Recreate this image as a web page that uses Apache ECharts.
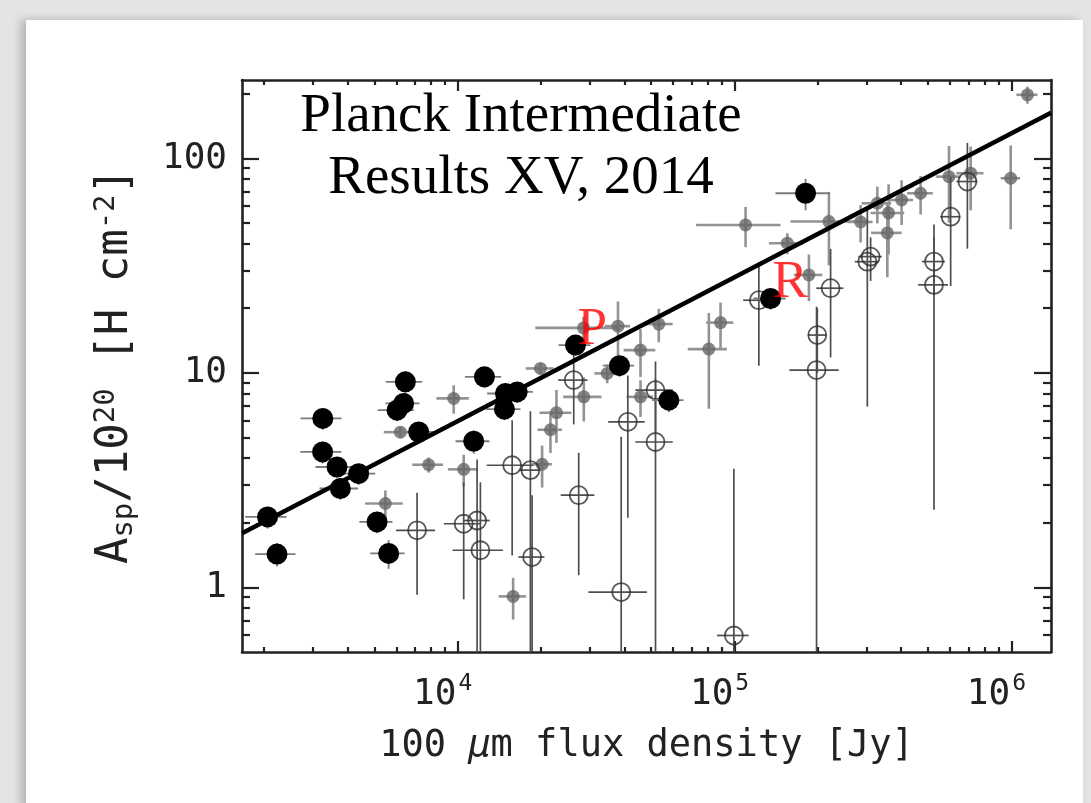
<!DOCTYPE html>
<html><head><meta charset="utf-8">
<script src="https://cdn.jsdelivr.net/npm/echarts@6/dist/echarts.min.js"></script>
<style>
html,body{margin:0;padding:0;width:1091px;height:803px;overflow:hidden;background:#e4e4e4;}
#panel{position:absolute;left:26px;top:20px;width:1057px;height:790px;background:#fff;box-shadow:-5px 0 9px rgba(0,0,0,0.22);}
#chart{position:absolute;left:0;top:0;width:1091px;height:803px;}
</style></head><body><div id="panel"></div><div id="chart"></div>
<script>
// ---- axis ranges & ticks ----
const X_MIN = 1663, X_MAX = 1390000;
const Y_MIN = 0.5, Y_MAX = 231.6;
const xMajorTicks = [1e4, 1e5, 1e6];
const xMinorTicks = [2000,3000,4000,5000,6000,7000,8000,9000,20000,30000,40000,50000,60000,70000,80000,90000,200000,300000,400000,500000,600000,700000,800000,900000];
const yMajorTicks = [1, 10, 100];
const yMinorTicks = [0.6,0.7,0.8,0.9,2,3,4,5,6,7,8,9,20,30,40,50,60,70,80,90,200];

// ---- filled black circles ----
const blackX = [2057, 2225, 3256, 3251, 3665, 3768, 4387, 5113, 5631, 6471, 6379, 6039, 7228, 12490, 14875, 16397, 14752, 11423, 26630, 38400, 57900, 134940, 180500];
const blackY = [2.13, 1.43, 6.13, 4.28, 3.64, 2.89, 3.39, 2.02, 1.44, 9.08, 7.20, 6.70, 5.30, 9.58, 8.01, 8.15, 6.77, 4.80, 13.47, 10.8, 7.46, 22.2, 68.7];
const blackXErr = [350, 370, 550, 550, 600, 600, 650, 700, 800, 970, 900, 900, 1000, 1870, 2100, 2300, 2100, 1600, 3500, 5000, 7500, 18000, 40000];
const blackYErr = [0.25, 0.18, 0.7, 0.5, 0.4, 0.33, 0.38, 0.23, 0.22, 1.1, 0.8, 0.75, 0.6, 1.1, 0.9, 0.9, 0.75, 0.6, 1.5, 1.2, 0.9, 2.5, 11.5];

// ---- grey filled points ----
const grayX = [6207, 7857, 5480, 9672, 10512, 15856, 19900, 21630, 22740, 20180, 28540, 34680, 37930, 28470, 45740, 45740, 53250, 80750, 89000, 109600, 155100, 185600, 219200, 327900, 360100, 356300, 285300, 401300, 470000, 595000, 712700, 994300, 1142600];
const grayY = [5.29, 3.73, 2.46, 7.60, 3.55, 0.908, 10.48, 5.43, 6.52, 3.75, 7.73, 9.94, 16.5, 16.2, 12.76, 7.73, 16.88, 12.9, 17.15, 48.9, 40.2, 28.6, 50.7, 61.7, 55.6, 44.9, 50.5, 63.9, 68.7, 82.1, 85.2, 80.7, 197.6];
const grayXErr = [800, 1000, 850, 1300, 1300, 1800, 2300, 2200, 3000, 1700, 4500, 3500, 4000, 9400, 6000, 5000, 6500, 13000, 10000, 37000, 22000, 22000, 60000, 40000, 50000, 45000, 30000, 40000, 50000, 60000, 80000, 80000, 100000];
const grayYErr = [0.3, 0.3, 0.37, 1.15, 0.6, 0.2, 0.6, 1.2, 1.8, 0.83, 1.8, 1.0, 5, 2, 3.2, 1.5, 3, 6.1, 4.1, 10.4, 4.5, 7, 19, 12, 20, 17, 10, 15, 14, 32, 28, 34, 18];

// ---- open circles ----
const openX = [7133, 10512, 11751, 12078, 15730, 18305, 18570, 26250, 41160, 27360, 38950, 51820, 51820, 99430, 199000, 197800, 122400, 222300, 301700, 310100, 525300, 525300, 603400, 693400];
const openY = [1.845, 1.98, 2.05, 1.49, 3.71, 3.52, 1.385, 9.25, 5.91, 2.69, 0.951, 8.30, 4.76, 0.597, 15.0, 10.3, 21.8, 24.8, 32.96, 34.8, 33.0, 25.7, 53.4, 77.9];
const openXErr = [1150, 1600, 1300, 2500, 3000, 1600, 2000, 3200, 6200, 3800, 9300, 8000, 8000, 13000, 15000, 40000, 15000, 25000, 30000, 30000, 50000, 65000, 50000, 60000];
const openYErr = [0.92, 1.1, 1.9, 1.6, 2.3, 3.1, 1.3, 3.5, 3.8, 1.55, 4.08, 3.0, 4.6, 2.98, 5, 10, 11, 13, 26, 8, 10, 23.4, 28, 40];

// ---- fit line (end points) ----
const fitX = [1663, 1390000];
const fitY = [1.79, 163];

// ---- labelled sources ----
const markNames = ['P', 'R'];
const markIdx = [18, 21];

// ---- texts ----
const noteLines = ['Planck Intermediate', 'Results XV, 2014'];
const xName = '100 {i|\u03bc}m flux density [Jy]';
const yName = '{m|A}{sub|sp}{m|/10}{sup|20}{m| [H cm}{sup|-2}{m|]}';

function pack(X, Y, EX, EY) { return X.map((x, i) => [x, Y[i], EX[i], EY[i]]); }
const blackData = pack(blackX, blackY, blackXErr, blackYErr);
const grayData = pack(grayX, grayY, grayXErr, grayYErr);
const openData = pack(openX, openY, openXErr, openYErr);

function errRender(color, width) {
  return function (params, api) {
    const x = api.value(0), y = api.value(1), ex = api.value(2), ey = api.value(3);
    const xl = Math.max(x - ex, X_MIN * 0.5), xh = x + ex;
    const yl = Math.max(y - ey, Y_MIN * 0.5), yh = y + ey;
    const c = api.coord([x, y]);
    const pL = api.coord([xl, y]), pR = api.coord([xh, y]);
    const pB = api.coord([x, yl]), pT = api.coord([x, yh]);
    return { type: 'group', children: [
      { type: 'line', shape: { x1: pL[0], y1: c[1], x2: pR[0], y2: c[1] }, style: { stroke: color, lineWidth: width } },
      { type: 'line', shape: { x1: c[0], y1: pB[1], x2: c[0], y2: pT[1] }, style: { stroke: color, lineWidth: width } }
    ] };
  };
}

const AX = '#222';
const FONT = 'DejaVu Sans Mono';
function xAxisDef(pos, major) {
  return {
    type: 'log', logBase: 10, min: X_MIN, max: X_MAX, position: pos, gridIndex: 0,
    axisLine: { show: major, onZero: false, lineStyle: { color: AX, width: 2.6 } },
    axisTick: { show: true, inside: true, length: major ? 11 : 5, customValues: major ? xMajorTicks : xMinorTicks, lineStyle: { color: AX, width: 2.2 } },
    minorTick: { show: false }, splitLine: { show: false },
    axisLabel: { show: false }
  };
}
function yAxisDef(pos, major) {
  return {
    type: 'log', logBase: 10, min: Y_MIN, max: Y_MAX, position: pos, gridIndex: 0,
    axisLine: { show: major, onZero: false, lineStyle: { color: AX, width: 2.6 } },
    axisTick: { show: true, inside: true, length: major ? 17 : 8, customValues: major ? yMajorTicks : yMinorTicks, lineStyle: { color: AX, width: 2.2 } },
    minorTick: { show: false }, splitLine: { show: false },
    axisLabel: { show: false }
  };
}

const xMain = xAxisDef('bottom', true);
xMain.axisLabel = {
  show: true, customValues: xMajorTicks, margin: 21,
  formatter: v => '{b|10}{s|' + Math.round(Math.log10(v)) + '}',
  rich: {
    b: { fontFamily: FONT, fontSize: 36, color: '#222' },
    s: { fontFamily: FONT, fontSize: 23, color: '#222', padding: [0, 30, 20, 2] }
  }
};
xMain.name = xName;
xMain.nameLocation = 'middle';
xMain.nameGap = 76;
xMain.nameTextStyle = { fontFamily: FONT, fontSize: 37, color: '#222', rich: { i: { fontFamily: FONT, fontSize: 37, fontStyle: 'italic', color: '#222' } } };

const yMain = yAxisDef('left', true);
yMain.axisLabel = {
  show: true, customValues: yMajorTicks, margin: 15,
  formatter: v => String(Math.round(v)),
  fontFamily: FONT, fontSize: 36, color: '#222'
};
yMain.name = yName;
yMain.nameLocation = 'middle';
yMain.nameGap = 102;
yMain.nameRotate = 90;
yMain.nameTextStyle = { color: '#222', rich: {
  m: { fontFamily: FONT, fontSize: 44, color: '#222' },
  sub: { fontFamily: FONT, fontSize: 29, color: '#222', padding: [17, 0, 0, 0] },
  sup: { fontFamily: FONT, fontSize: 29, color: '#222', padding: [0, 0, 19, 0] }
} };

const option = {
  animation: false,
  backgroundColor: 'transparent',
  grid: { left: 242, top: 80, width: 809, height: 572, containLabel: false },
  xAxis: [xMain, xAxisDef('bottom', false), xAxisDef('top', true), xAxisDef('top', false)],
  yAxis: [yMain, yAxisDef('left', false), yAxisDef('right', true), yAxisDef('right', false)],
  graphic: [
    { type: 'text', x: 521, y: 117, z: 100, style: { text: noteLines[0], fontFamily: 'Liberation Serif', fontSize: 55, fill: '#000', align: 'center', verticalAlign: 'middle' } },
    { type: 'text', x: 521, y: 179, z: 100, style: { text: noteLines[1], fontFamily: 'Liberation Serif', fontSize: 55, fill: '#000', align: 'center', verticalAlign: 'middle' } }
  ],
  series: [
    { type: 'custom', name: 'grayErr', xAxisIndex: 0, yAxisIndex: 0, clip: true, renderItem: errRender('#939393', 2.6), data: grayData, z: 2 },
    { type: 'scatter', name: 'gray', xAxisIndex: 0, yAxisIndex: 0, symbol: 'circle', symbolSize: 13, itemStyle: { color: '#666666' }, data: grayData.map(d => [d[0], d[1]]), z: 3 },
    { type: 'custom', name: 'openErr', xAxisIndex: 0, yAxisIndex: 0, clip: true, renderItem: errRender('#4e4e4e', 1.7), data: openData, z: 4 },
    { type: 'scatter', name: 'open', xAxisIndex: 0, yAxisIndex: 0, symbol: 'circle', symbolSize: 18, itemStyle: { color: 'rgba(255,255,255,0)', borderColor: '#2e2e2e', borderWidth: 1.8 }, data: openData.map(d => [d[0], d[1]]), z: 5 },
    { type: 'custom', name: 'blackErr', xAxisIndex: 0, yAxisIndex: 0, clip: true, renderItem: errRender('#7a7a7a', 1.8), data: blackData, z: 6 },
    { type: 'scatter', name: 'black', xAxisIndex: 0, yAxisIndex: 0, symbol: 'circle', symbolSize: 21, itemStyle: { color: '#000', opacity: 1 }, data: blackData.map(d => [d[0], d[1]]), z: 7 },
    { type: 'line', name: 'fit', xAxisIndex: 0, yAxisIndex: 0, symbol: 'none', lineStyle: { color: '#000', width: 4.5 }, data: fitX.map((x, i) => [x, fitY[i]]), z: 8 },
    { type: 'scatter', name: 'marks', xAxisIndex: 0, yAxisIndex: 0, symbolSize: 0, z: 9,
      data: markIdx.map((k, j) => ({ value: [blackX[k], blackY[k]], name: markNames[j] })),
      label: { show: true, formatter: p => p.name, position: [2, -15], align: 'left', verticalAlign: 'middle', fontFamily: 'Liberation Serif', fontSize: 53, color: '#ff0000' } }
  ]
};
const chart = echarts.init(document.getElementById('chart'), null, { renderer: 'canvas' });
chart.setOption(option);
</script></body></html>
